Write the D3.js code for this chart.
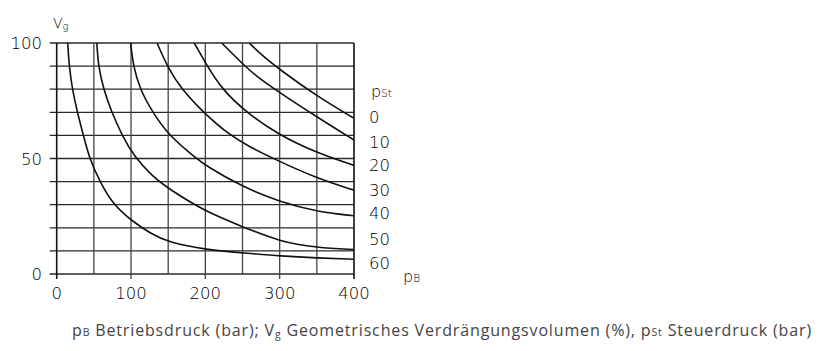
<!DOCTYPE html>
<html><head><meta charset="utf-8">
<script src="https://cdn.jsdelivr.net/npm/d3@7"></script>
<style>body{margin:0;background:#fff}svg{display:block}</style>
</head><body><svg id="c" width="831" height="351"></svg>
<script>
// Data: operating pressure pB (bar) vs geometric displacement Vg (%) for control pressures pSt
const pSt = [0, 10, 20, 30, 40, 50, 60];
const c0  = [[259,100],[275,95],[300,88.5],[350,77],[400,67.4]];
const c10 = [[222,100],[250,91],[267,86],[300,78.5],[350,68],[400,58]];
const c20 = [[185,100],[200,91.5],[222,80],[255,70],[300,60],[350,52.5],[400,47]];
const c30 = [[135,100],[150,89],[168,80],[197,70],[233,60],[260,55],[291,50],[350,41.4],[400,36.3]];
const c40 = [[99.5,100],[103,90],[112,80],[129,70],[150,60.3],[184,51],[200,47],[250,37.7],[300,31.3],[350,27],[400,25.2]];
const c50 = [[54,100],[56,90],[63,80],[74,70],[88,60],[104,51],[128,42.5],[150,37],[200,27],[250,20.5],[300,14],[350,11.4],[400,10.6]];
const c60 = [[14.8,100],[16.8,90],[21,80],[27.7,70],[36,60],[44,50],[58,40],[76,30],[101,23],[126,17.6],[150,13.7],[200,10.5],[260,8.9],[300,7.8],[350,6.9],[400,6.4]];
const curves = [c0, c10, c20, c30, c40, c50, c60];
const labelY = [68, 57.2, 47.1, 36.3, 26.2, 15, 4.6];   // label positions (Vg %) at right side
const xTicks = [0, 100, 200, 300, 400];
const yTicks = [0, 50, 100];
const xGrid = d3.range(0, 401, 50);
const yGrid = d3.range(0, 101, 10);

const svg = d3.select("#c");
const x = d3.scaleLinear().domain([0, 400]).range([56.7, 354]);
const y = d3.scaleLinear().domain([0, 100]).range([274, 43]);
const font = "'DejaVu Sans', sans-serif";

// grid
svg.append("g").selectAll("line").data(yGrid).join("line")
  .attr("x1", x(0) - 7).attr("x2", x(400))
  .attr("y1", d => y(d)).attr("y2", d => y(d))
  .attr("stroke", "#2a2a2a").attr("stroke-width", 1.3);
svg.append("g").selectAll("line").data(xGrid).join("line")
  .attr("x1", d => x(d)).attr("x2", d => x(d))
  .attr("y1", y(100)).attr("y2", d => y(0) + (d % 100 === 0 ? 5 : 0))
  .attr("stroke", d => (d === 0 || d === 400) ? "#111" : "#444")
  .attr("stroke-width", d => (d === 0 || d === 400) ? 1.6 : 1.3);

// clip
svg.append("clipPath").attr("id", "clip").append("rect")
  .attr("x", x(0)).attr("y", y(100)).attr("width", x(400) - x(0)).attr("height", y(0) - y(100));

const line = d3.line().x(d => x(d[0])).y(d => y(d[1])).curve(d3.curveBasis);
svg.append("g").attr("clip-path", "url(#clip)").selectAll("path").data(curves).join("path")
  .attr("d", line).attr("fill", "none").attr("stroke", "#111").attr("stroke-width", 1.6);

// axis labels
svg.append("g").selectAll("text").data(yTicks).join("text")
  .attr("x", 42).attr("y", d => y(d) + 6).attr("text-anchor", "end")
  .attr("font-family", font).attr("font-weight", 200).attr("font-size", 16.5).attr("fill", "#000").text(d => d);
svg.append("g").selectAll("text").data(xTicks).join("text")
  .attr("x", d => x(d)).attr("y", 299).attr("text-anchor", "middle")
  .attr("font-family", font).attr("font-weight", 200).attr("font-size", 16.5).attr("fill", "#000").text(d => d);

// pSt labels
svg.append("g").selectAll("text").data(pSt).join("text")
  .attr("x", 369).attr("y", (d, i) => y(labelY[i]) + 6)
  .attr("font-family", font).attr("font-weight", 200).attr("font-size", 16.5).attr("fill", "#000").text(d => d);

const t1 = svg.append("text").attr("x", 371).attr("y", 97).attr("font-family", font).attr("font-weight", 200).attr("fill", "#000");
t1.append("tspan").attr("font-size", 16).text("p");
t1.append("tspan").attr("font-size", 10.5).text("St");
const t2 = svg.append("text").attr("x", 403).attr("y", 282).attr("font-family", font).attr("font-weight", 200).attr("fill", "#000");
t2.append("tspan").attr("font-size", 16).text("p");
t2.append("tspan").attr("font-size", 10.5).text("B");
const t3 = svg.append("text").attr("x", 53).attr("y", 28).attr("font-family", font).attr("font-weight", 200).attr("fill", "#000");
t3.append("tspan").attr("font-size", 14).text("V");
t3.append("tspan").attr("font-size", 10).attr("dy", 2).text("g");

// caption
const cf = "'Open Sans', 'Noto Sans', sans-serif";
const cap = svg.append("text").attr("x", 72).attr("y", 336).attr("font-family", cf).attr("font-size", 16).attr("fill", "#444");
cap.append("tspan").text("p");
cap.append("tspan").attr("font-size", 10.5).text("B");
cap.append("tspan").text(" Betriebsdruck (bar); V");
cap.append("tspan").attr("font-size", 10.5).attr("dy", 2).text("g");
cap.append("tspan").attr("dy", -2).text(" Geometrisches Verdrängungsvolumen (%), p");
cap.append("tspan").attr("font-size", 10.5).text("St");
cap.append("tspan").text(" Steuerdruck (bar)");
const w = cap.node().getComputedTextLength();
const n = cap.text().length;
cap.attr("letter-spacing", ((740 - w) / n).toFixed(3));
</script></body></html>
